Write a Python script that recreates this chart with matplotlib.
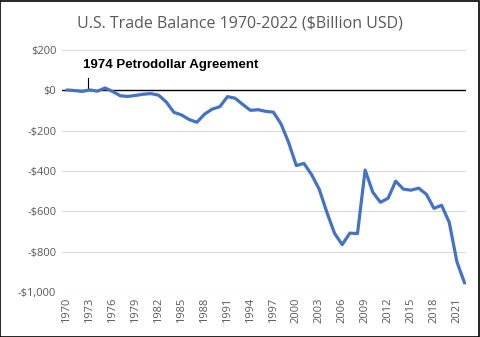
import numpy as np
import matplotlib
matplotlib.use('Agg')
import matplotlib.pyplot as plt

# data (billion USD)
years = list(range(1970, 2023))
balance = [2, -1, -5, 2, -4, 12, -6, -27, -30, -25, -19, -16, -24, -58, -109,
           -122, -145, -158, -118, -93, -81, -31, -39, -70, -99, -96, -104,
           -108, -166, -259, -373, -362, -418, -491, -605, -709, -765, -708,
           -710, -395, -505, -555, -535, -450, -490, -495, -485, -515, -585,
           -570, -655, -850, -955]
yticks = [200, 0, -200, -400, -600, -800, -1000]
ytick_labels = ['$200', '$0', '-$200', '-$400', '-$600', '-$800', '-$1,000']
xticks = list(range(1970, 2023, 3))

plt.rcParams['font.family'] = ['Open Sans', 'DejaVu Sans']
gray = '#595959'

fig = plt.figure(figsize=(4.8, 3.37), dpi=100)
ax = fig.add_axes([0.129, 0.1335, 0.842, 0.718])

for y in yticks:
    if y != 0:
        ax.axhline(y, color='#d9d9d9', lw=0.8, zorder=0)
ax.axhline(0, color='black', lw=1.0, zorder=1)

ax.plot(years, balance, color='#4472C4', lw=2.3, zorder=3, solid_capstyle='round')

ax.set_xlim(1969.35, 2022.2)
ax.set_ylim(-1000, 200)
ax.set_yticks(yticks)
ax.set_yticklabels(ytick_labels, color=gray, fontsize=8)
ax.set_xticks(xticks)
ax.set_xticklabels([str(x) for x in xticks], rotation=90, color=gray, fontsize=8)
ax.tick_params(length=0, pad=4)
for s in ax.spines.values():
    s.set_visible(False)

# annotation
ax.plot([1972.8, 1972.8], [10, 62], color='black', lw=0.8)
ax.text(1972.1, 95, '1974 Petrodollar Agreement', fontsize=9.5, fontweight='bold',
        family=['Liberation Sans', 'DejaVu Sans'], color='black', va='bottom', ha='left')

fig.text(0.5, 0.93, 'U.S. Trade Balance 1970-2022 ($Billion USD)', ha='center', va='center',
         fontsize=11.5, color=gray)

fig.patches.append(plt.Rectangle((0.001, 0.001), 0.997, 0.996, transform=fig.transFigure,
                                 fill=False, edgecolor='black', lw=1.2))

fig.savefig('out.png', dpi=100)
